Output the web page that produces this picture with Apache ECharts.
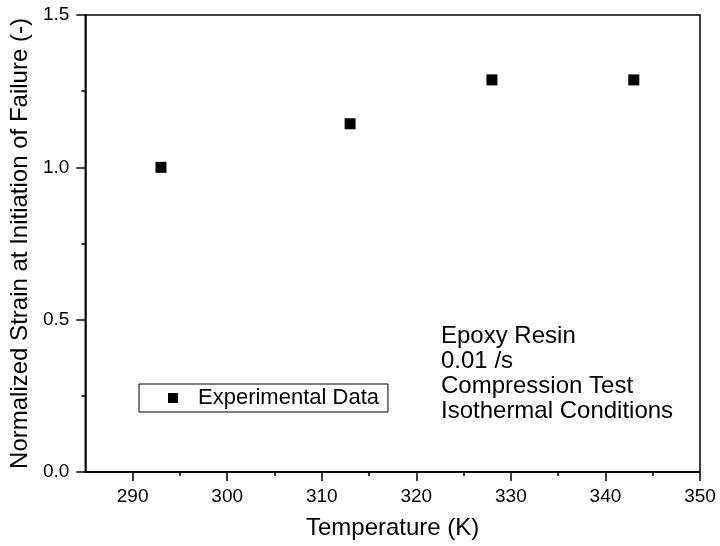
<!DOCTYPE html>
<html>
<head>
<meta charset="utf-8">
<script src="https://cdn.jsdelivr.net/npm/echarts@6/dist/echarts.min.js"></script>
<style>html,body{margin:0;padding:0;background:#fff}#c{width:720px;height:546px}</style>
</head>
<body>
<div id="c"></div>
<script>
const temperatures = [293, 313, 328, 343];
const normalizedStrain = [1.0, 1.143, 1.287, 1.287];
const xMajorTicks = [290, 300, 310, 320, 330, 340, 350];
const xMinorTicks = [295, 305, 315, 325, 335, 345];
const annotationLines = ['Epoxy Resin', '0.01 /s', 'Compression Test', 'Isothermal Conditions'];
const seriesName = 'Experimental Data';

const F = '"Liberation Sans", Arial, sans-serif';
const chart = echarts.init(document.getElementById('c'));
chart.setOption({
  animation: false,
  backgroundColor: '#fff',
  grid: { left: 85, right: 20, top: 15, bottom: 74, show: true, borderColor: '#000', borderWidth: 1.5, backgroundColor: 'transparent' },
  xAxis: [{
    type: 'value', min: 285, max: 350, position: 'bottom',
    name: 'Temperature (K)', nameLocation: 'middle', nameGap: 44,
    nameTextStyle: { fontFamily: F, fontSize: 24, color: '#000' },
    axisLine: { lineStyle: { color: '#000', width: 1.5 } },
    axisTick: { show: true, inside: false, length: 9, customValues: xMajorTicks, lineStyle: { color: '#000', width: 1.5 } },
    axisLabel: { customValues: xMajorTicks, fontFamily: F, fontSize: 19, color: '#000', margin: 15 },
    splitLine: { show: false }
  }, {
    type: 'value', min: 285, max: 350, position: 'bottom',
    axisLine: { show: false },
    axisTick: { show: true, inside: false, length: 4, customValues: xMinorTicks, lineStyle: { color: '#000', width: 1.5 } },
    axisLabel: { show: false },
    splitLine: { show: false }
  }],
  yAxis: {
    type: 'value', min: 0, max: 1.5, interval: 0.5,
    name: 'Normalized Strain at Initiation of Failure (-)', nameLocation: 'middle', nameGap: 48,
    nameTextStyle: { fontFamily: F, fontSize: 24, color: '#000' },
    axisLine: { show: true, lineStyle: { color: '#000', width: 1.5 } },
    axisTick: { show: true, inside: false, length: 9, lineStyle: { color: '#000', width: 1.5 } },
    minorTick: { show: true, splitNumber: 2, length: 4, lineStyle: { color: '#000', width: 1.5 } },
    axisLabel: { fontFamily: F, fontSize: 19, color: '#000', margin: 16, formatter: v => v.toFixed(1) },
    splitLine: { show: false }
  },
  legend: {
    left: 139, top: 384, orient: 'vertical',
    selectedMode: false,
    borderColor: '#000', borderWidth: 1,
    padding: [3, 9, 3, 29],
    itemWidth: 10, itemHeight: 10,
    icon: 'rect',
    itemStyle: { color: '#000', opacity: 1 },
    textStyle: { fontFamily: F, fontSize: 22, color: '#000', padding: [0, 0, 0, 15] },
    data: [seriesName]
  },
  graphic: [{
    type: 'text', left: 441, top: 324,
    style: { text: annotationLines.join('\n'), font: '24px ' + F, fill: '#000', lineHeight: 25 }
  }],
  series: [{
    name: seriesName, type: 'scatter', xAxisIndex: 0,
    symbol: 'rect', symbolSize: 11,
    itemStyle: { color: '#000', opacity: 1 },
    data: temperatures.map((t, i) => [t, normalizedStrain[i]])
  }]
});
</script>
</body>
</html>
